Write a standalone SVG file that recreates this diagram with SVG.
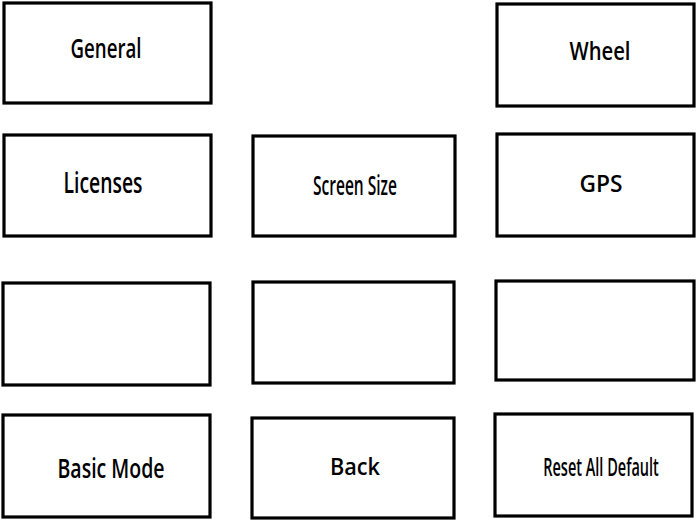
<svg xmlns="http://www.w3.org/2000/svg" width="698" height="521" viewBox="0 0 698 521">
<style>
.box{fill:#fff;stroke:#000;stroke-width:3.2}
.lbl{font-family:"Open Sans","Noto Sans",sans-serif;font-size:27px;font-weight:600;fill:#000;text-anchor:middle}
</style>
<rect width="698" height="521" fill="#fff"/>
<g id="connectors"></g>
<g id="general"><rect class="box" x="4" y="3" width="207" height="100"/><text class="lbl" x="106" y="58" textLength="71" lengthAdjust="spacingAndGlyphs">General</text></g>
<g id="wheel"><rect class="box" x="497" y="4" width="197" height="102"/><text class="lbl" x="600" y="60" style="font-size:25px" textLength="61" lengthAdjust="spacingAndGlyphs">Wheel</text></g>
<g id="licenses"><rect class="box" x="4" y="135" width="207" height="101"/><text class="lbl" x="103" y="193" style="font-size:28px" textLength="79" lengthAdjust="spacingAndGlyphs">Licenses</text></g>
<g id="screen-size"><rect class="box" x="253" y="136" width="202" height="100"/><text class="lbl" x="355" y="195" style="font-size:27px" textLength="84" lengthAdjust="spacingAndGlyphs">Screen Size</text></g>
<g id="gps"><rect class="box" x="497" y="134" width="197" height="102"/><text class="lbl" x="601" y="192" style="font-size:24px" textLength="43" lengthAdjust="spacingAndGlyphs">GPS</text></g>
<g id="empty-left"><rect class="box" x="3" y="283" width="207" height="102"/></g>
<g id="empty-middle"><rect class="box" x="253" y="282" width="201" height="101"/></g>
<g id="empty-right"><rect class="box" x="496" y="281" width="198" height="99"/></g>
<g id="basic-mode"><rect class="box" x="3" y="415" width="207" height="102"/><text class="lbl" x="111" y="478" textLength="107" lengthAdjust="spacingAndGlyphs">Basic Mode</text></g>
<g id="back"><rect class="box" x="252" y="418" width="202" height="100"/><text class="lbl" x="355" y="475" style="font-size:24px" textLength="50" lengthAdjust="spacingAndGlyphs">Back</text></g>
<g id="reset-all-default"><rect class="box" x="495" y="414" width="197" height="102"/><text class="lbl" transform="translate(601 476) scale(0.58 1)" x="0" y="0" style="font-size:25px">Reset All Default</text></g>
</svg>
